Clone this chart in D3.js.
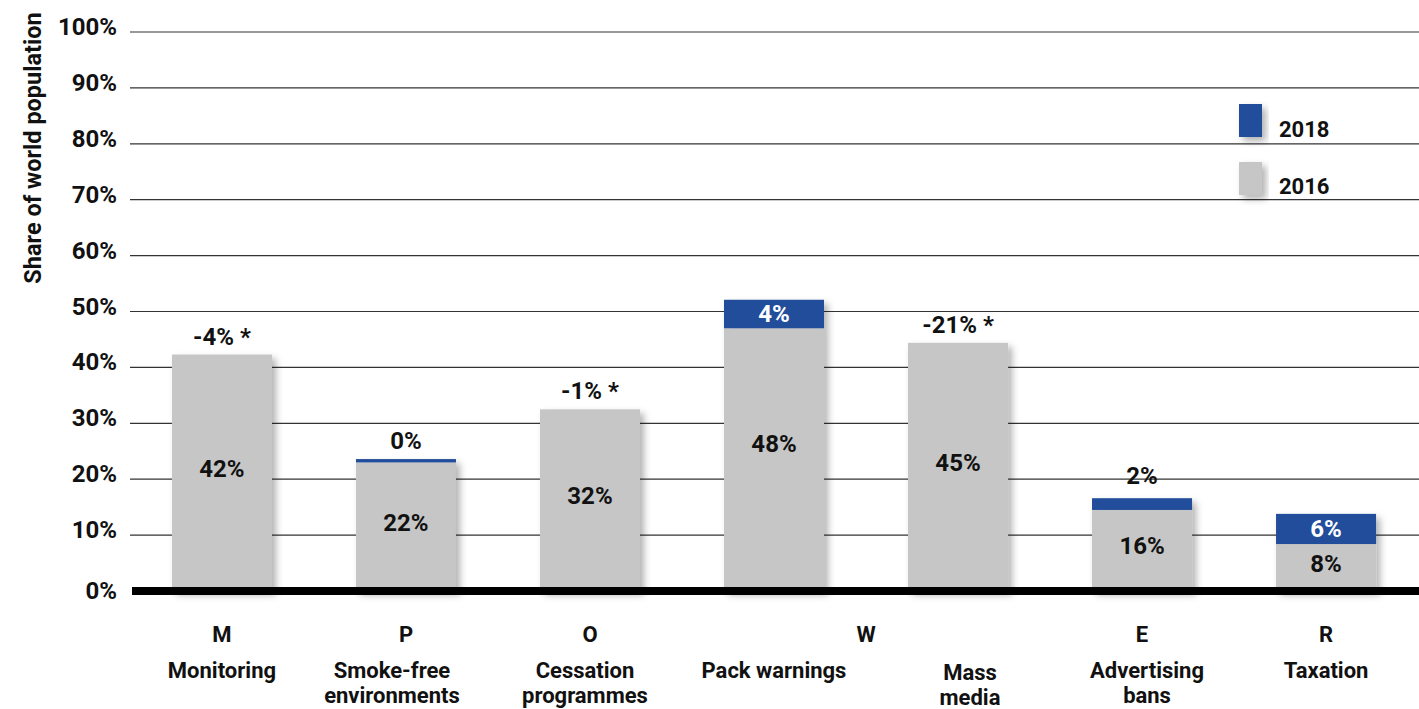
<!DOCTYPE html>
<html>
<head>
<meta charset="utf-8">
<script src="https://cdn.jsdelivr.net/npm/d3@7"></script>
<style>
  body { margin: 0; background: #fff; }
  text { font-family: Roboto, "Open Sans", sans-serif; font-weight: 700; fill: #111; }
</style>
</head>
<body>
<div id="chart"></div>
<script>
// data
var keys = ["M", "P", "O", "W1", "W2", "E", "R"];
var letters = ["M", "P", "O", "", "", "E", "R"];
var names = [["Monitoring"], ["Smoke-free", "environments"], ["Cessation", "programmes"],
             ["Pack warnings"], ["Mass", "media"], ["Advertising", "bans"], ["Taxation"]];
var base2016 = [42.3, 23.0, 32.5, 47.0, 44.4, 14.5, 8.4];
var gain2018 = [0, 0.6, 0, 5.1, 0, 2.1, 5.4];
var innerLabels = ["42%", "22%", "32%", "48%", "45%", "16%", "8%"];
var changeLabels = ["-4% *", "0%", "-1% *", "4%", "-21% *", "2%", "6%"];
var changeInside = [false, false, false, true, false, false, true];
var yTicks = [0, 10, 20, 30, 40, 50, 60, 70, 80, 90, 100];

var W = 1419, H = 709;
var blue = "#234d9b", grey = "#c6c6c6";

var svg = d3.select("#chart").append("svg")
    .attr("width", W)
    .attr("height", H);

// soft shadow on the bars
var defs = svg.append("defs");
var f = defs.append("filter").attr("id", "shadow")
    .attr("x", "-20%").attr("y", "-20%").attr("width", "150%").attr("height", "150%");
f.append("feDropShadow").attr("dx", 4).attr("dy", 4).attr("stdDeviation", 3.5)
    .attr("flood-color", "#000").attr("flood-opacity", 0.3);

var x = d3.scaleBand()
    .domain(keys)
    .range([130, 1418])
    .paddingInner(0.4565)
    .paddingOuter(0.228);

var y = d3.scaleLinear()
    .domain([0, 100])
    .range([591, 32]);

// gridlines + tick labels
svg.append("g")
    .selectAll("line")
    .data(yTicks.filter(function (d) { return d > 0; }))
    .enter().append("line")
    .attr("x1", 130).attr("x2", W)
    .attr("y1", function (d) { return y(d); })
    .attr("y2", function (d) { return y(d); })
    .attr("stroke", "#333").attr("stroke-width", 1.2);

svg.append("g")
    .selectAll("text")
    .data(yTicks)
    .enter().append("text")
    .attr("x", 117)
    .attr("y", function (d) { return y(d) + (d === 0 ? 8 : 3); })
    .attr("text-anchor", "end")
    .style("font-size", "24px")
    .text(function (d) { return d + "%"; });

// axis title
svg.append("text")
    .attr("transform", "translate(41,148) rotate(-90)")
    .attr("text-anchor", "middle")
    .style("font-size", "23.5px")
    .text("Share of world population");

// bars
var bars = svg.append("g").selectAll("g")
    .data(keys)
    .enter().append("g")
    .attr("filter", "url(#shadow)");

bars.append("rect")
    .attr("x", function (d) { return x(d); })
    .attr("width", x.bandwidth())
    .attr("y", function (d, i) { return y(base2016[i]); })
    .attr("height", function (d, i) { return y(0) - y(base2016[i]); })
    .attr("fill", grey);

bars.filter(function (d, i) { return gain2018[i] > 0; })
    .append("rect")
    .attr("x", function (d) { return x(d); })
    .attr("width", x.bandwidth())
    .attr("y", function (d) { var i = keys.indexOf(d); return y(base2016[i] + gain2018[i]); })
    .attr("height", function (d) { var i = keys.indexOf(d); return y(base2016[i]) - y(base2016[i] + gain2018[i]); })
    .attr("fill", blue);

// baseline
svg.append("line")
    .attr("x1", 132).attr("x2", W)
    .attr("y1", y(0)).attr("y2", y(0))
    .attr("stroke", "#000").attr("stroke-width", 8);

// value labels inside grey
svg.append("g").selectAll("text")
    .data(keys)
    .enter().append("text")
    .attr("x", function (d) { return x(d) + x.bandwidth() / 2; })
    .attr("y", function (d, i) {
        var mid = (y(base2016[i]) + y(0)) / 2 + 4;
        return d === "W1" ? mid - 12 : mid;
    })
    .attr("text-anchor", "middle")
    .style("font-size", "24px")
    .text(function (d, i) { return innerLabels[i]; });

// change labels
svg.append("g").selectAll("text")
    .data(keys)
    .enter().append("text")
    .attr("x", function (d) { return x(d) + x.bandwidth() / 2; })
    .attr("y", function (d, i) {
        var top = y(base2016[i] + gain2018[i]);
        if (changeInside[i]) return (top + y(base2016[i])) / 2 + 8;
        return top - (d === "E" ? 14 : 10);
    })
    .attr("text-anchor", "middle")
    .style("font-size", "24px")
    .style("fill", function (d, i) { return changeInside[i] ? "#fff" : "#111"; })
    .text(function (d, i) { return changeLabels[i]; });

// category labels
var cat = svg.append("g");
keys.forEach(function (k, i) {
    var cx = x(k) + x.bandwidth() / 2;
    if (letters[i]) {
        cat.append("text").attr("x", cx).attr("y", 642)
            .attr("text-anchor", "middle").style("font-size", "22px").text(letters[i]);
    }
    var y0 = (k === "W2") ? 680 : 678;
    var nx = (k === "W2") ? cx + 12 : (k === "P" ? cx - 14 : (k === "O" ? cx - 5 : (k === "E" ? cx + 5 : cx)));
    names[i].forEach(function (line, j) {
        cat.append("text").attr("x", nx).attr("y", y0 + j * 25)
            .attr("text-anchor", "middle").style("font-size", "22px").text(line);
    });
});
// shared W letter between the two W bars
cat.append("text")
    .attr("x", (x("W1") + x("W2") + x.bandwidth()) / 2)
    .attr("y", 642)
    .attr("text-anchor", "middle").style("font-size", "22px").text("W");

// legend
var leg = svg.append("g");
[["2018", blue, 104, 137], ["2016", grey, 162, 194]].forEach(function (l) {
    leg.append("rect").attr("x", 1239).attr("y", l[2]).attr("width", 23).attr("height", 33)
        .attr("fill", l[1]).attr("filter", "url(#shadow)");
    leg.append("text").attr("x", 1279).attr("y", l[3]).style("font-size", "22px").text(l[0]);
});
</script>
</body>
</html>
